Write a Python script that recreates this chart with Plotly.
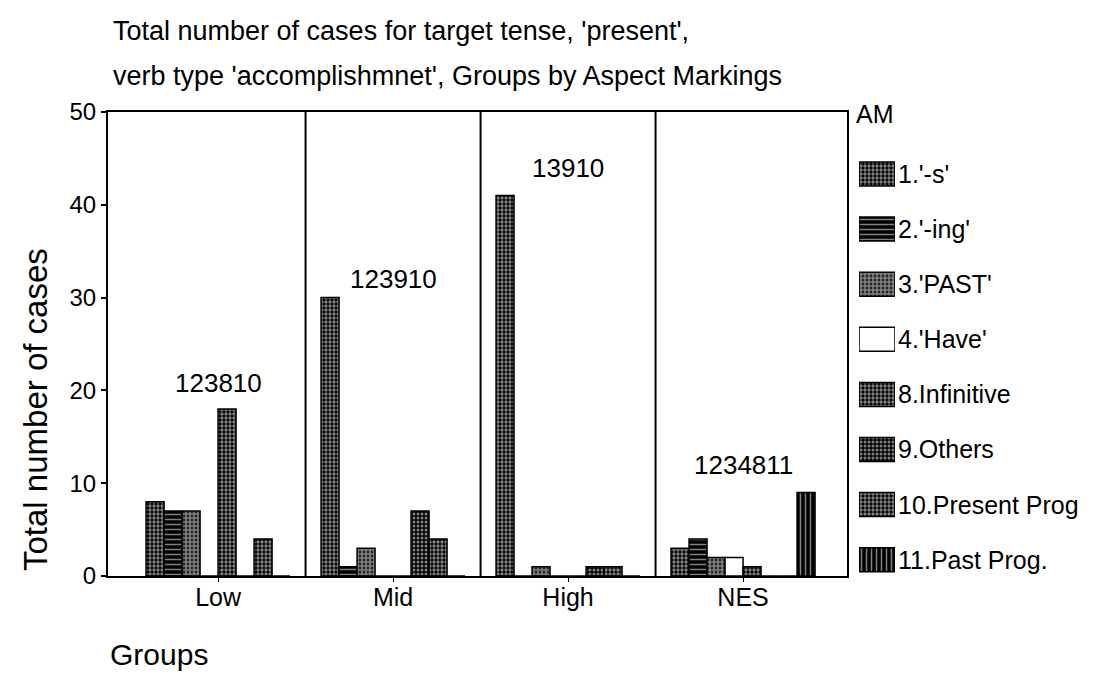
import plotly.graph_objects as go

# groups on the x axis and the aspect markings (AM) shown as bars
groups = ["Low", "Mid", "High", "NES"]
markings = ["1.'-s'", "2.'-ing'", "3.'PAST'", "4.'Have'", "8.Infinitive",
            "9.Others", "10.Present Prog", "11.Past Prog."]

# counts per group (Low, Mid, High, NES)
am_s = [8, 30, 41, 3]
am_ing = [7, 1, 0, 4]
am_past = [7, 3, 1, 2]
am_have = [0, 0, 0, 2]
am_infinitive = [18, 0, 0, 1]
am_others = [0, 7, 1, 0]
am_present_prog = [4, 4, 1, 0]
am_past_prog = [0, 0, 0, 9]

# codes of the markings present in each group
group_codes = ["123810", "123910", "13910", "1234811"]

series = [am_s, am_ing, am_past, am_have, am_infinitive,
          am_others, am_present_prog, am_past_prog]

# fill pattern for each marking (black & white print style)
patterns = [
    dict(shape=".", fgcolor="white", bgcolor="black", size=4, solidity=0.55),
    dict(shape="-", fgcolor="white", bgcolor="black", size=5, solidity=0.3),
    dict(shape=".", fgcolor="white", bgcolor="black", size=4, solidity=0.72),
    dict(shape="", fgcolor="white", bgcolor="white"),
    dict(shape=".", fgcolor="white", bgcolor="black", size=4, solidity=0.55),
    dict(shape=".", fgcolor="white", bgcolor="black", size=4, solidity=0.45),
    dict(shape=".", fgcolor="white", bgcolor="black", size=4, solidity=0.55),
    dict(shape="|", fgcolor="white", bgcolor="black", size=5, solidity=0.3),
]

label_y = [20.8, 32, 44, 12]   # where the code labels sit in each panel
FONT = "Liberation Sans, Arial, sans-serif"

fig = go.Figure()

x_pos = list(range(len(groups)))
for name, vals, pat in zip(markings, series, patterns):
    fig.add_trace(go.Bar(
        x=x_pos, y=vals, name=name,
        marker=dict(color="white", pattern=pat,
                    line=dict(color="black", width=1.5)),
        showlegend=False,
    ))

# hand-made legend: patterned swatches on a small helper axis
sw_h = 24 / 55.1
for i, (name, pat) in enumerate(zip(markings, patterns)):
    fig.add_trace(go.Bar(
        x=[1], y=[i], orientation="h", base=0,
        width=sw_h, offset=-sw_h / 2,
        xaxis="x2", yaxis="y2",
        marker=dict(color="white", pattern=pat,
                    line=dict(color="black", width=1.5)),
        showlegend=False, hoverinfo="skip",
    ))
    fig.add_annotation(x=1, y=i, xref="x2", yref="y2", text=name,
                       showarrow=False, xanchor="left", xshift=1,
                       font=dict(size=25, color="black", family=FONT))

fig.add_annotation(x=(846 - 100) / 994, y=(568 - 106) / 464, xref="paper", yref="paper",
                   text="AM", showarrow=False, xanchor="left", yanchor="middle",
                   font=dict(size=25, color="black", family=FONT))

# panel separators
for xd in [0.5, 1.5, 2.5]:
    fig.add_shape(type="line", x0=xd, x1=xd, y0=0, y1=50, xref="x", yref="y",
                  line=dict(color="black", width=2))

# code labels above each cluster
for xi, code, ly in zip(x_pos, group_codes, label_y):
    fig.add_annotation(x=xi, y=ly, text=code, showarrow=False,
                       font=dict(size=26, color="black", family=FONT))

# title (two lines) and axis titles
fig.add_annotation(x=0.003, y=(568 - 23) / 464, xref="paper", yref="paper",
                   text="Total number of cases for target tense, 'present',",
                   showarrow=False, xanchor="left", yanchor="middle",
                   font=dict(size=27, color="black", family=FONT))
fig.add_annotation(x=0.003, y=(568 - 68) / 464, xref="paper", yref="paper",
                   text="verb type 'accomplishmnet', Groups by Aspect Markings",
                   showarrow=False, xanchor="left", yanchor="middle",
                   font=dict(size=27, color="black", family=FONT))
fig.add_annotation(x=(28 - 100) / 994, y=(568 - 402) / 464, xref="paper", yref="paper",
                   text="Total number of cases", textangle=-90, showarrow=False,
                   xanchor="center", yanchor="middle",
                   font=dict(size=33, color="black", family=FONT))
fig.add_annotation(x=0.0, y=(568 - 646) / 464, xref="paper", yref="paper",
                   text="Groups", showarrow=False, xanchor="left", yanchor="middle",
                   font=dict(size=30, color="black", family=FONT))

fig.update_layout(
    width=1094, height=679,
    margin=dict(l=100, r=0, t=104, b=111),
    paper_bgcolor="white", plot_bgcolor="white",
    barmode="group", bargap=0.177, bargroupgap=0,
    font=dict(family=FONT, color="black"),
    xaxis=dict(domain=[0, 739 / 994], range=[-0.629, 3.594],
               tickvals=x_pos, ticktext=groups,
               showline=True, mirror=True, linecolor="black", linewidth=2,
               ticks="outside", ticklen=4, tickcolor="black",
               ticklabelstandoff=-6,
               showgrid=False, zeroline=False, tickfont=dict(size=25)),
    yaxis=dict(range=[0, 50], dtick=10,
               showline=True, mirror=True, linecolor="black", linewidth=2,
               ticks="outside", ticklen=5, tickwidth=2, tickcolor="black",
               showgrid=False, zeroline=False, tickfont=dict(size=24)),
    xaxis2=dict(domain=[(851 - 100) / 994, (887 - 100) / 994], range=[0, 1],
                visible=False, anchor="y2"),
    yaxis2=dict(domain=[0, 1], range=[7.296, -1.125], visible=False, anchor="x2"),
)

fig.write_html("out.html")
